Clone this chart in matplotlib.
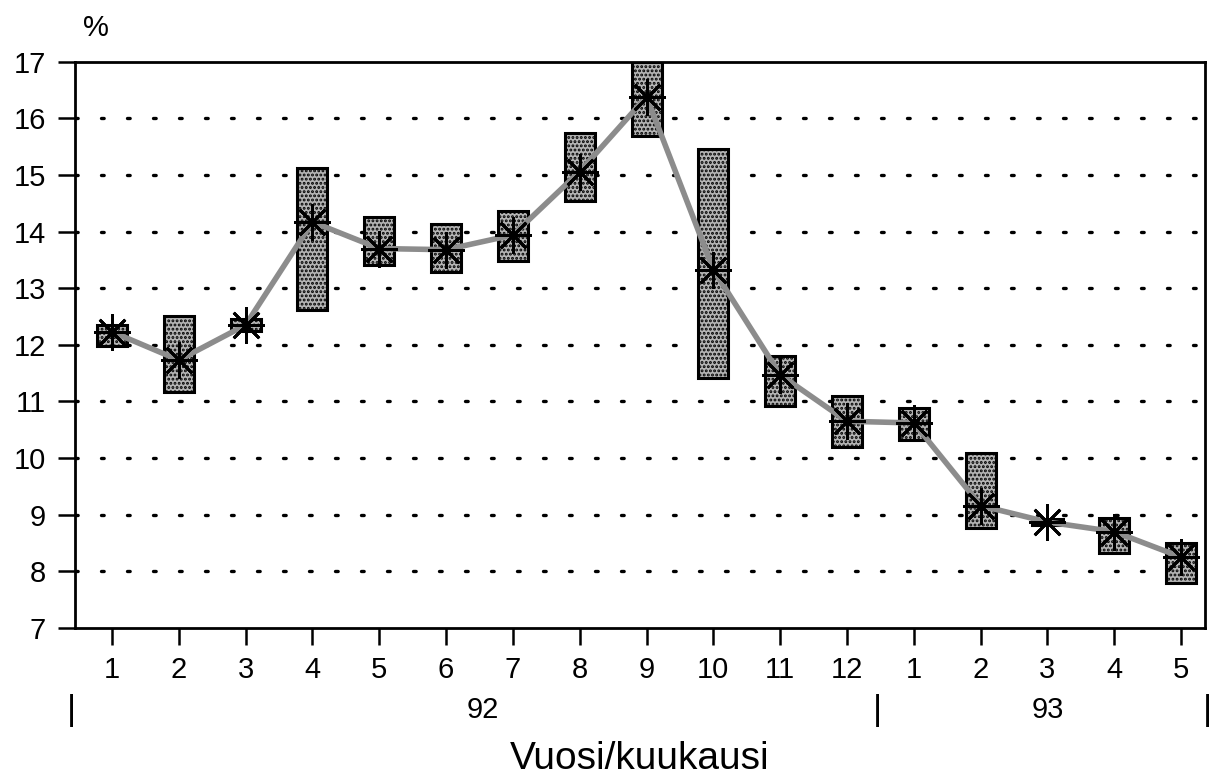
import matplotlib.pyplot as plt
import matplotlib.transforms as mtransforms
import numpy as np

plt.rcParams['font.family'] = ['Liberation Sans', 'DejaVu Sans']
plt.rcParams['hatch.color'] = '#2e2e2e'
plt.rcParams['hatch.linewidth'] = 1.4

# month labels and year groups
months = ['1', '2', '3', '4', '5', '6', '7', '8', '9', '10', '11', '12', '1', '2', '3', '4', '5']
years = ['92', '93']
year_centers = [6.55, 15.0]
year_bounds = [0.4, 12.45, 17.4]

# monthly high / low range and average (%)
high = [12.35, 12.51, 12.45, 15.13, 14.26, 14.14, 14.37, 15.74, 17.0, 15.46, 11.80, 11.10, 10.89, 10.09, 8.92, 8.94, 8.50]
low = [11.98, 11.17, 12.25, 12.62, 13.41, 13.29, 13.48, 14.54, 15.69, 11.42, 10.92, 10.20, 10.32, 8.77, 8.82, 8.32, 7.80]
avg = [12.23, 11.73, 12.35, 14.17, 13.70, 13.68, 13.94, 15.06, 16.38, 13.33, 11.47, 10.65, 10.62, 9.16, 8.87, 8.70, 8.25]

x = np.arange(1, len(months) + 1)

fig = plt.figure(figsize=(12.13, 7.81), dpi=100)
ax = fig.add_axes([0.062, 0.196, 0.931, 0.725])

# dotted grid lines
for v in range(8, 17):
    ax.axhline(v, color='black', linestyle=(0, (0.8, 7)), linewidth=2.4, dash_capstyle='round', zorder=1)

# range boxes
ax.bar(x, np.array(high) - np.array(low), bottom=low, width=0.45,
       facecolor='#b4b4b4', edgecolor='black', linewidth=2.2, hatch='....', zorder=2)

# connecting line and average markers
ax.plot(x, avg, color='#8c8c8c', linewidth=4, zorder=3)
ax.plot(x, avg, linestyle='none', marker=(8, 2, 0), markersize=26,
        markeredgecolor='black', markeredgewidth=2, zorder=4)

ax.set_xlim(0.45, 17.35)
ax.set_ylim(7, 17)
ax.set_yticks(range(7, 18))
ax.set_xticks(x)
ax.set_xticklabels(months)
ax.tick_params(axis='both', labelsize=21, length=12, width=1.8, direction='out')
ax.tick_params(axis='x', pad=8)
ax.tick_params(axis='y', pad=9)
for s in ax.spines.values():
    s.set_linewidth(2)

trans = mtransforms.blended_transform_factory(ax.transData, ax.transAxes)
for xc, yl in zip(year_centers, years):
    ax.text(xc, -0.145, yl, transform=trans, ha='center', va='center', fontsize=21)
for xb in year_bounds:
    ax.text(xb, -0.145, '|', transform=trans, ha='center', va='center', fontsize=25)

ax.text(0.018, 1.06, '%', transform=ax.transAxes, ha='center', va='center', fontsize=21)
fig.text(0.527, 0.028, 'Vuosi/kuukausi', ha='center', va='center', fontsize=28)

fig.savefig('out.png', dpi=100)
